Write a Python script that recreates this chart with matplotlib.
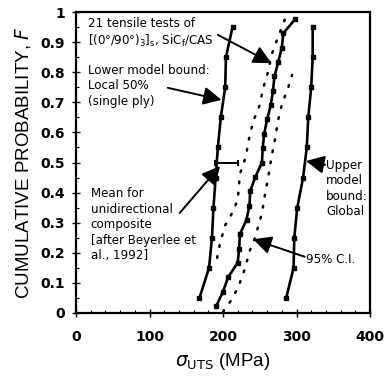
import matplotlib
matplotlib.use("Agg")
import matplotlib.pyplot as plt
from matplotlib.ticker import MultipleLocator

plt.rcParams['mathtext.fontset'] = 'custom'
plt.rcParams['mathtext.rm'] = 'DejaVu Sans'
plt.rcParams['mathtext.it'] = 'DejaVu Sans:italic'

# ---- data ----
# 21 tensile tests (experimental)
exp_F = [0.024, 0.071, 0.119, 0.167, 0.214, 0.262, 0.310, 0.357, 0.405, 0.452, 0.500,
         0.548, 0.595, 0.643, 0.690, 0.738, 0.786, 0.833, 0.881, 0.929, 0.976]
exp_S = [191, 200, 207, 220, 222, 223, 232, 236, 237, 244, 253,
         254, 256, 260, 265, 268, 270, 275, 280, 282, 298]

# model bounds
model_F = [0.05, 0.15, 0.25, 0.35, 0.45, 0.55, 0.65, 0.75, 0.85, 0.95]
lower_S = [168, 181, 185, 187, 190, 193, 197, 203, 204, 213]
upper_S = [286, 296, 297, 301, 309, 314, 316, 320, 322, 322]

# 95% confidence interval
ci_lo_F = [0.183, 0.232, 0.292, 0.320, 0.375, 0.403, 0.462, 0.519, 0.575, 0.636,
           0.691, 0.741, 0.807, 0.857, 0.918, 0.987]
ci_lo_S = [192, 196, 203, 210, 220, 221, 223, 231, 235, 241, 250, 254, 262, 266, 275, 286]
ci_hi_F = [0.004, 0.038, 0.087, 0.149, 0.204, 0.253, 0.298, 0.331, 0.392, 0.458,
           0.519, 0.580, 0.641, 0.702, 0.735, 0.791]
ci_hi_S = [200, 210, 221, 230, 236, 244, 249, 253, 257, 262, 266, 271, 275, 281, 287, 294]

# mean for unidirectional composite
mean_S = [189, 220]
mean_F = [0.5, 0.5]

xticks = [0, 100, 200, 300, 400]
yticks = [0, 0.1, 0.2, 0.3, 0.4, 0.5, 0.6, 0.7, 0.8, 0.9, 1]
ytick_labels = ['0', '0.1', '0.2', '0.3', '0.4', '0.5', '0.6', '0.7', '0.8', '0.9', '1']

# ---- figure ----
W, H = 386, 376
fig = plt.figure(figsize=(W / 100, H / 100), dpi=100)
ax = fig.add_axes([76 / W, (H - 313) / H, 294 / W, 301 / H])

line_kw = dict(color='black', lw=1.9, marker='s', ms=3.2, mfc='black', mec='black')
ax.plot(exp_S, exp_F, **line_kw)
ax.plot(lower_S, model_F, **line_kw)
ax.plot(upper_S, model_F, **line_kw)

dot_kw = dict(color='black', lw=1.8, linestyle=(0, (0.7, 3.8)), dash_capstyle='round')
ax.plot(ci_lo_S, ci_lo_F, **dot_kw)
ax.plot(ci_hi_S, ci_hi_F, **dot_kw)

ax.plot(mean_S, mean_F, color='black', lw=1.4, marker='|', ms=4, mew=1.4)

ax.set_xlim(0, 400)
ax.set_ylim(0, 1)
ax.set_xticks(xticks)
ax.set_yticks(yticks)
ax.set_yticklabels(ytick_labels)
ax.xaxis.set_minor_locator(MultipleLocator(20))
ax.yaxis.set_minor_locator(MultipleLocator(0.05))
ax.tick_params(which='major', direction='inout', length=6, width=1.0, labelsize=10, pad=5)
ax.tick_params(which='minor', direction='in', length=2.5, width=0.8)
ax.tick_params(axis='x', which='major', pad=9)
for lab in ax.get_xticklabels() + ax.get_yticklabels():
    lab.set_fontweight('bold')
    lab.set_family('DejaVu Sans')
for sp in ax.spines.values():
    sp.set_linewidth(1.6)

ax.set_ylabel('CUMULATIVE PROBABILITY, $\\mathit{F}$', family='Liberation Sans',
              fontsize=13.5, labelpad=5)
ax.set_xlabel('$\\sigma_{\\mathrm{UTS}}$ (MPa)', family='Liberation Sans', fontsize=13.5,
              labelpad=5)

tkw = dict(family='DejaVu Sans', fontsize=8.6, va='top', ha='left', linespacing=1.25)
ax.text(16, 0.985, '21 tensile tests of\n[(0°/90°)$_3$]$_\\mathrm{s}$, SiC$_\\mathrm{f}$/CAS', **tkw)
ax.text(16, 0.828, 'Lower model bound:\nLocal 50%\n(single ply)', **tkw)
ax.text(20, 0.418, 'Mean for\nunidirectional\ncomposite\n[after Beyerlee et\nal., 1992]', **tkw)
ax.text(340, 0.512, 'Upper\nmodel\nbound:\nGlobal', **tkw)
ax.text(313, 0.179, '95% C.I.', family='DejaVu Sans', fontsize=8.6, va='center', ha='left')

akw = dict(arrowstyle='-|>,head_length=1.1,head_width=0.55', color='black', lw=1.4,
           shrinkA=0, shrinkB=0)
ax.annotate('', xy=(266, 0.83), xytext=(193, 0.924), arrowprops=akw)
ax.annotate('', xy=(198, 0.708), xytext=(125, 0.748), arrowprops=akw)
ax.annotate('', xy=(196, 0.488), xytext=(141, 0.332), arrowprops=akw)
ax.annotate('', xy=(313, 0.505), xytext=(339, 0.492), arrowprops=akw)
ax.annotate('', xy=(241, 0.245), xytext=(311, 0.187), arrowprops=akw)

fig.savefig('out.png', dpi=100)
